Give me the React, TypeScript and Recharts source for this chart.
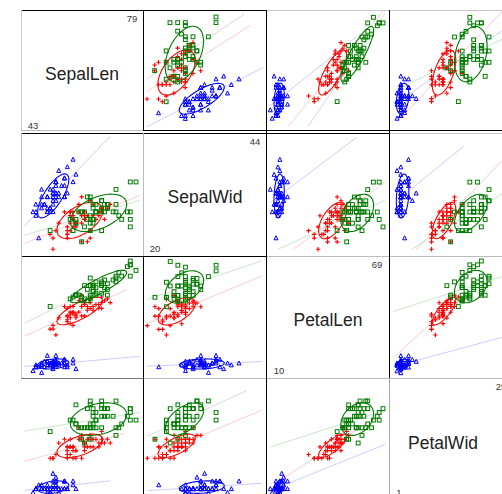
import React from "react"
import { ScatterChart, Scatter, XAxis, YAxis } from "recharts"

// iris measurements in mm, read species by species
const setosaSepalLen = [51,49,47,46,50,54,46,50,44,49,54,48,48,43,58,57,54,51,57,51,54,51,46,51,48,50,50,52,52,47,48,54,52,55,49,50,55,49,44,51,50,45,44,50,51,48,51,46,53,50]
const setosaSepalWid = [35,30,32,31,36,39,34,34,29,31,37,34,30,30,40,44,39,35,38,38,34,37,36,33,34,30,34,35,34,32,31,34,41,42,31,32,35,36,30,34,35,23,32,35,38,30,38,32,37,33]
const setosaPetalLen = [14,14,13,15,14,17,14,15,14,15,15,16,14,11,12,15,13,14,17,15,17,15,10,17,19,16,16,15,14,16,16,15,15,14,15,12,13,14,13,15,13,13,13,16,19,14,16,14,15,14]
const setosaPetalWid = [2,2,2,2,2,4,3,2,2,1,2,2,1,1,2,4,4,3,3,3,2,4,2,5,2,2,4,2,2,2,2,4,1,2,2,2,2,1,2,2,3,3,2,6,4,3,2,2,2,2]

const versicolorSepalLen = [70,64,69,55,65,57,63,49,66,52,50,59,60,61,56,67,56,58,62,56,59,61,63,61,64,66,68,67,60,57,55,55,58,60,54,60,67,63,56,55,55,61,58,50,56,57,57,62,51,57]
const versicolorSepalWid = [32,32,31,23,28,28,33,24,29,27,20,30,22,29,29,31,30,27,22,25,32,28,25,28,29,30,28,30,29,26,24,24,27,27,30,34,31,23,30,25,26,30,26,23,27,30,29,29,25,28]
const versicolorPetalLen = [47,45,49,40,46,45,47,33,46,39,35,42,40,47,36,44,45,41,45,39,48,40,49,47,43,44,48,50,45,35,38,37,39,51,45,45,47,44,41,40,44,46,40,33,42,42,42,43,30,41]
const versicolorPetalWid = [14,15,15,13,15,13,16,10,13,14,10,15,10,14,13,14,15,10,15,11,18,13,15,12,13,14,14,17,15,10,11,10,12,16,15,16,15,13,13,13,12,14,12,10,13,12,13,13,11,13]

const virginicaSepalLen = [63,58,71,63,65,76,49,73,67,72,65,64,68,57,58,64,65,77,77,60,69,56,77,63,67,72,62,61,64,72,74,79,64,63,61,77,63,64,60,69,67,69,58,68,67,67,63,65,62,59]
const virginicaSepalWid = [33,27,30,29,30,30,25,29,25,36,32,27,30,25,28,32,30,38,26,22,32,28,28,27,33,32,28,30,28,30,28,38,28,28,26,30,34,31,30,31,31,31,27,32,33,30,25,30,34,30]
const virginicaPetalLen = [60,51,59,56,58,66,45,63,58,61,51,53,55,50,51,53,55,67,69,50,57,49,67,49,57,60,48,49,56,58,61,64,56,51,56,61,56,55,48,54,56,51,51,59,57,52,50,52,54,51]
const virginicaPetalWid = [25,19,21,18,22,21,17,18,18,25,20,19,21,20,24,23,18,22,23,15,23,20,20,18,21,18,18,18,21,16,19,20,22,15,14,23,24,18,18,21,24,23,19,23,25,23,19,20,23,18]

const variableNames = ["SepalLen", "SepalWid", "PetalLen", "PetalWid"]
const variableMin = [43, 20, 10, 1]
const variableMax = [79, 44, 69, 25]

const species = [
  { key: "setosa", color: "#0000ff", columns: [setosaSepalLen, setosaSepalWid, setosaPetalLen, setosaPetalWid] },
  { key: "versicolor", color: "#ff0000", columns: [versicolorSepalLen, versicolorSepalWid, versicolorPetalLen, versicolorPetalWid] },
  { key: "virginica", color: "#007a00", columns: [virginicaSepalLen, virginicaSepalWid, virginicaPetalLen, virginicaPetalWid] },
]

const colLeft = [21, 143, 266, 389]
const colWidth = [122, 123, 123, 113]
const rowTop = [10, 133, 256, 378]
const rowHeight = [120, 121, 122, 116]

// row, col, page px of the var min/max on each axis, x range of each fit line (setosa, versicolor, virginica)
const panels = [
  { row: 0, col: 1, xPx: [147, 239], yPx: [118.7, 17], fits: [[20, 50.3], [20, 46.9], [20, 45.6]] },
  { row: 0, col: 2, xPx: [270.3, 383], yPx: [118.5, 17.3], fits: [[10, 55], [19.2, 70], [29.7, 70]] },
  { row: 0, col: 3, xPx: [397, 489], yPx: [118.5, 17.3], fits: [[1, 35], [1, 35], [1, 35]] },
  { row: 1, col: 0, xPx: [33, 136], yPx: [249.3, 159.5], fits: [[40, 70], [40, 80.4], [40, 80.4]] },
  { row: 1, col: 2, xPx: [270.3, 383], yPx: [249.3, 159.7], fits: [[10, 55], [22, 70], [14, 70]] },
  { row: 1, col: 3, xPx: [397, 489], yPx: [249.3, 159.7], fits: [[1, 18.4], [6, 35], [4.9, 35]] },
  { row: 2, col: 0, xPx: [33, 136], yPx: [372.7, 261], fits: [[40, 80.4], [40, 76], [40, 80.4]] },
  { row: 2, col: 1, xPx: [147.3, 239], yPx: [372.7, 261.5], fits: [[20, 50], [20, 50], [20, 50]] },
  { row: 2, col: 3, xPx: [397, 489], yPx: [373, 261], fits: [[0, 35], [0, 18], [0, 35]] },
  { row: 3, col: 0, xPx: [33, 136], yPx: [492.7, 401], fits: [[40, 70], [40, 75], [40, 80.4]] },
  { row: 3, col: 1, xPx: [147.3, 239], yPx: [492.7, 401], fits: [[20, 50], [20, 50], [20, 46]] },
  { row: 3, col: 2, xPx: [270.3, 383], yPx: [492.7, 401], fits: [[10, 70], [16.5, 70], [10, 70]] },
]

// diagonal text: label centre, max and min tick positions
const labelSpots = [
  { cx: 82, cy: 73, maxX: 132, maxY: 18, minX: 33, minY: 125 },
  { cx: 205, cy: 196, maxX: 255, maxY: 141, minX: 155, minY: 248 },
  { cx: 328, cy: 319, maxX: 377, maxY: 264, minX: 279, minY: 370 },
  { cx: 443, cy: 442, maxX: 501, maxY: 386, minX: 399, minY: 492 },
]

const hRules = [
  [10, 21, 266, "#000"], [10, 266, 502, "#c8c8c8"],
  [130, 21, 143, "#bbb"], [130, 143, 502, "#000"],
  [133, 21, 389, "#000"], [133, 389, 502, "#c8c8c8"],
  [256, 21, 266, "#000"], [256, 266, 502, "#bbb"],
  [378, 21, 143, "#777"], [378, 143, 502, "#bbb"],
]
const vRules = [
  [21, 10, 130, "#ccc"], [21, 133, 256, "#bbb"], [21, 256, 378, "#ccc"],
  [143, 10, 130, "#000"], [143, 133, 256, "#bbb"], [143, 256, 494, "#000"],
  [266, 10, 494, "#000"],
  [389, 10, 378, "#000"], [389, 378, 494, "#aaa"],
]

const mean = (v: number[]) => v.reduce((a, b) => a + b, 0) / v.length
const cov = (a: number[], b: number[]) => {
  const ma = mean(a)
  const mb = mean(b)
  return a.reduce((s, v, i) => s + (v - ma) * (b[i] - mb), 0) / (a.length - 1)
}

function fitLine(xs: number[], ys: number[], range: number[]) {
  const slope = cov(xs, ys) / cov(xs, xs)
  const icpt = mean(ys) - slope * mean(xs)
  return range.map((x) => ({ x, y: icpt + slope * x }))
}

// concentration ellipse from the group's means and covariance
const ELLIPSE_RADIUS = 1.55
function ellipse(xs: number[], ys: number[]) {
  const sx = Math.sqrt(cov(xs, xs))
  const sy = Math.sqrt(cov(ys, ys))
  const r = cov(xs, ys) / (sx * sy)
  const pts = []
  for (let i = 0; i <= 72; i++) {
    const t = (i / 72) * 2 * Math.PI
    pts.push({
      x: mean(xs) + ELLIPSE_RADIUS * sx * Math.cos(t),
      y: mean(ys) + ELLIPSE_RADIUS * sy * (r * Math.cos(t) + Math.sqrt(1 - r * r) * Math.sin(t)),
    })
  }
  return pts
}

const Triangle = ({ cx, cy }: any) => (
  <path d={`M${cx},${cy - 2.3}L${cx + 2},${cy + 1.7}L${cx - 2},${cy + 1.7}Z`} fill="none" stroke="#0000ff" strokeWidth={1} />
)
const Plus = ({ cx, cy }: any) => (
  <path d={`M${cx - 2.2},${cy}H${cx + 2.2}M${cx},${cy - 2.2}V${cy + 2.2}`} fill="none" stroke="#ff0000" strokeWidth={1.1} />
)
const Square = ({ cx, cy }: any) => (
  <rect x={cx - 1.9} y={cy - 1.9} width={3.8} height={3.8} fill="none" stroke="#007a00" strokeWidth={1} />
)
const NoMark = () => <g />
const markers = [Triangle, Plus, Square]

function Panel({ panel }: { panel: (typeof panels)[number] }) {
  const { row, col, xPx, yPx, fits } = panel
  const left = colLeft[col]
  const top = rowTop[row]
  const width = colWidth[col]
  const height = rowHeight[row]
  // work out the domains so var min/max land on the measured page positions
  const kx = (variableMax[col] - variableMin[col]) / (xPx[1] - xPx[0])
  const ky = (variableMax[row] - variableMin[row]) / (yPx[0] - yPx[1])
  const xDomain = [variableMin[col] - (xPx[0] - left) * kx, variableMin[col] + (left + width - xPx[0]) * kx]
  const yDomain = [variableMin[row] - (top + height - yPx[0]) * ky, variableMin[row] + (yPx[0] - top) * ky]
  return (
    <div style={{ position: "absolute", left, top, width, height, overflow: "hidden" }}>
      <ScatterChart width={width} height={height} margin={{ top: 0, right: 0, bottom: 0, left: 0 }}>
        <XAxis type="number" dataKey="x" domain={xDomain} allowDataOverflow hide />
        <YAxis type="number" dataKey="y" domain={yDomain} allowDataOverflow hide />
        {species.map((s, i) => {
          const xs = s.columns[col]
          const ys = s.columns[row]
          const points = xs.map((x, j) => ({ x, y: ys[j] }))
          return (
            <React.Fragment key={s.key}>
              <Scatter
                data={fitLine(xs, ys, fits[i])}
                line={{ stroke: s.color, strokeWidth: 1, strokeOpacity: 0.2 }}
                shape={NoMark}
                isAnimationActive={false}
              />
              <Scatter
                data={ellipse(xs, ys)}
                line={{ stroke: s.color, strokeWidth: 1.1 }}
                shape={NoMark}
                isAnimationActive={false}
              />
              <Scatter data={points} shape={markers[i]} isAnimationActive={false} />
            </React.Fragment>
          )
        })}
      </ScatterChart>
    </div>
  )
}

const tickStyle: React.CSSProperties = {
  position: "absolute",
  fontFamily: "'Liberation Sans', Arial, sans-serif",
  fontSize: 9.5,
  color: "#333",
  transform: "translate(-50%, -50%)",
  whiteSpace: "nowrap",
}

export default function App() {
  return (
    <div style={{ position: "fixed", left: 0, top: 0, width: 502, height: 494, overflow: "hidden", background: "#fff" }}>
      {panels.map((p) => (
        <Panel key={`${p.row}-${p.col}`} panel={p} />
      ))}
      {hRules.map(([y, a, b, c]: any, i) => (
        <div key={`h${i}`} style={{ position: "absolute", left: a, top: y, width: b - a, height: 1, background: c }} />
      ))}
      {vRules.map(([x, a, b, c]: any, i) => (
        <div key={`v${i}`} style={{ position: "absolute", left: x, top: a, width: 1, height: b - a, background: c }} />
      ))}
      {variableNames.map((name, i) => {
        const spot = labelSpots[i]
        return (
          <React.Fragment key={name}>
            <div style={{ ...tickStyle, left: spot.cx, top: spot.cy + 0.5, fontSize: 17.5, color: "#222" }}>{name}</div>
            <div style={{ ...tickStyle, left: spot.maxX, top: spot.maxY }}>{variableMax[i]}</div>
            <div style={{ ...tickStyle, left: spot.minX, top: spot.minY }}>{variableMin[i]}</div>
          </React.Fragment>
        )
      })}
    </div>
  )
}
